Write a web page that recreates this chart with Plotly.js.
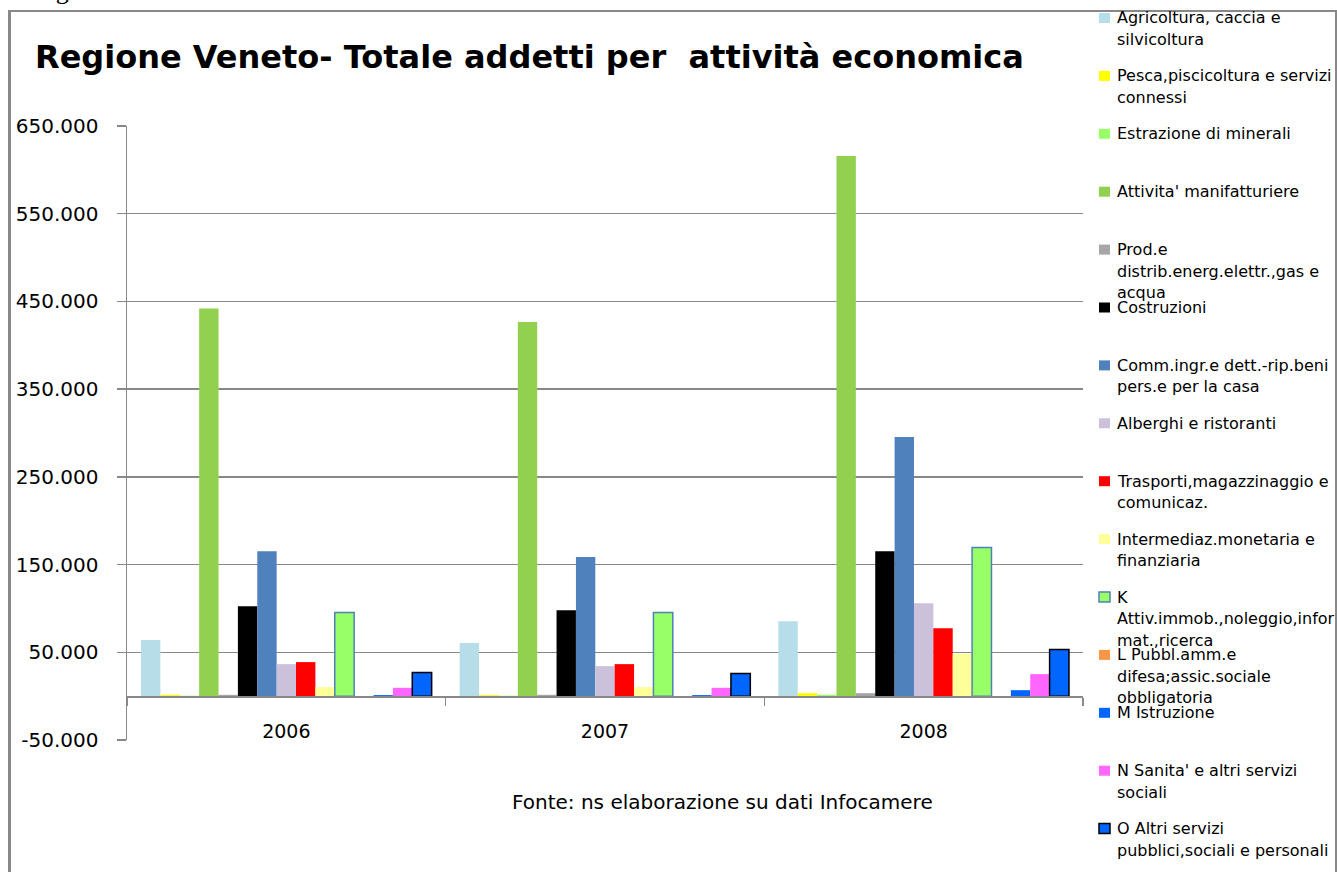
<!DOCTYPE html>
<html>
<head>
<meta charset="utf-8">
<script src="https://cdn.plot.ly/plotly-3.0.1.min.js"></script>
<style>
html,body{margin:0;padding:0;background:#fff;}
#chart{width:1337px;height:872px;}
</style>
</head>
<body>
<div id="chart"></div>
<script>
// ---- data ----
const years = ["2006", "2007", "2008"];

const seriesNames = [
  "Agricoltura, caccia e silvicoltura",
  "Pesca,piscicoltura e servizi connessi",
  "Estrazione di minerali",
  "Attivita' manifatturiere",
  "Prod.e distrib.energ.elettr.,gas e acqua",
  "Costruzioni",
  "Comm.ingr.e dett.-rip.beni pers.e per la casa",
  "Alberghi e ristoranti",
  "Trasporti,magazzinaggio e comunicaz.",
  "Intermediaz.monetaria e finanziaria",
  "K Attiv.immob.,noleggio,informat.,ricerca",
  "L Pubbl.amm.e difesa;assic.sociale obbligatoria",
  "M Istruzione",
  "N Sanita' e altri servizi sociali",
  "O Altri servizi pubblici,sociali e personali"
];

// legend labels as wrapped in the original (one string per line)
const legendLines = [
  ["Agricoltura, caccia e", "silvicoltura"],
  ["Pesca,piscicoltura e servizi", "connessi"],
  ["Estrazione di minerali"],
  ["Attivita' manifatturiere"],
  ["Prod.e", "distrib.energ.elettr.,gas e", "acqua"],
  ["Costruzioni"],
  ["Comm.ingr.e dett.-rip.beni", "pers.e per la casa"],
  ["Alberghi e ristoranti"],
  ["Trasporti,magazzinaggio e", "comunicaz."],
  ["Intermediaz.monetaria e", "finanziaria"],
  ["K", "Attiv.immob.,noleggio,infor", "mat.,ricerca"],
  ["L Pubbl.amm.e", "difesa;assic.sociale", "obbligatoria"],
  ["M Istruzione"],
  ["N Sanita' e altri servizi", "sociali"],
  ["O Altri servizi", "pubblici,sociali e personali"]
];

const agricoltura   = [64000, 60500, 85500];
const pesca         = [1500, 1200, 3400];
const estrazione    = [500, 500, 1500];
const manifatturiere= [442000, 426500, 615700];
const energia       = [1500, 1500, 3400];
const costruzioni   = [102600, 98000, 165300];
const commercio     = [165300, 158500, 295300];
const alberghi      = [36500, 34200, 106000];
const trasporti     = [38800, 36500, 77500];
const intermediaz   = [10300, 10300, 48300];
const attivImmob    = [95400, 95400, 169500];
const pubblAmm      = [-1000, -1000, -1000];
const istruzione    = [1200, 1200, 6800];
const sanita        = [9500, 9500, 25100];
const altriServizi  = [27000, 25900, 53200];

const yTickVals   = [-50000, 50000, 150000, 250000, 350000, 450000, 550000, 650000];
const yTickLabels = ["-50.000", "50.000", "150.000", "250.000", "350.000", "450.000", "550.000", "650.000"];

const titleText  = "Regione Veneto- Totale addetti per\u00A0 attività economica";
const sourceText = "Fonte: ns elaborazione su dati Infocamere";
const figText    = "Fig.5";

// ---- styles ----
const seriesValues = [agricoltura, pesca, estrazione, manifatturiere, energia, costruzioni,
  commercio, alberghi, trasporti, intermediaz, attivImmob, pubblAmm, istruzione, sanita, altriServizi];
const colors = ["#B7DEE8", "#FFFF00", "#99FF66", "#92D050", "#A6A6A6", "#000000",
  "#4F81BD", "#CCC1DA", "#FF0000", "#FFFF99", "#99FF66", "#F79646", "#0066FF", "#FF66FF", "#0066FF"];
const outlines = {10: "#4F81BD", 14: "#000000"};

const W = 1337, H = 872;
const L = 127, R = 1083, T = 126, B = 740;
const px2x = px => (px - L) / (R - L);
const py2y = py => (B - py) / (B - T);

const traces = seriesValues.map((vals, i) => ({
  type: "bar",
  name: seriesNames[i],
  x: years,
  y: vals,
  marker: {
    color: colors[i],
    line: outlines[i] ? {color: outlines[i], width: 1.5} : {width: 0}
  },
  showlegend: false,
  hoverinfo: "x+y+name"
}));

const annotations = [];
const shapes = [];
const legendFont = {family: "DejaVu Sans", size: 16, color: "#000"};

legendLines.forEach((lines, i) => {
  const y0 = 18 + i * 57.9;
  lines.forEach((ln, j) => {
    annotations.push({
      xref: "paper", yref: "paper",
      x: px2x(1115), y: py2y(y0 + j * 21.5),
      xanchor: "left", yanchor: "middle",
      text: ln, showarrow: false, font: legendFont
    });
  });
  shapes.push({
    type: "rect", xref: "paper", yref: "paper",
    x0: px2x(1099), x1: px2x(1110), y0: py2y(y0 - 5), y1: py2y(y0 + 5),
    fillcolor: colors[i],
    line: outlines[i] ? {color: outlines[i], width: 1.5} : {width: 0}
  });
});

annotations.push({
  xref: "paper", yref: "paper",
  x: px2x(722), y: py2y(802), xanchor: "center", yanchor: "middle",
  text: sourceText, showarrow: false,
  font: {family: "DejaVu Sans", size: 20, color: "#000"}
});

annotations.push({
  xref: "paper", yref: "paper",
  x: px2x(32), y: py2y(7), xanchor: "left", yanchor: "bottom",
  text: figText, showarrow: false,
  font: {family: "Liberation Serif", size: 26, color: "#000"}
});

// frame
const frameColor = "#888888";
shapes.push({type: "line", xref: "paper", yref: "paper", x0: px2x(9.5), x1: px2x(9.5), y0: py2y(10), y1: py2y(880), line: {color: frameColor, width: 3}});
shapes.push({type: "line", xref: "paper", yref: "paper", x0: px2x(8), x1: px2x(1337), y0: py2y(11), y1: py2y(11), line: {color: frameColor, width: 2}});
shapes.push({type: "line", xref: "paper", yref: "paper", x0: px2x(1336), x1: px2x(1336), y0: py2y(10), y1: py2y(880), line: {color: frameColor, width: 2}});

const layout = {
  width: W, height: H,
  margin: {l: L, r: W - R, t: T, b: H - B, pad: 0},
  paper_bgcolor: "#fff", plot_bgcolor: "#fff",
  barmode: "group", bargap: 0.088, bargroupgap: 0,
  title: {
    text: "<b>" + titleText + "</b>",
    xref: "container", yref: "container",
    x: 35 / W, xanchor: "left",
    y: 1 - 57 / H, yanchor: "middle",
    font: {family: "DejaVu Sans", size: 32, color: "#000"}
  },
  xaxis: {
    type: "category",
    anchor: "free",
    position: 50000 / 700000,
    showline: true, linecolor: "#888888", linewidth: 1.5,
    ticks: "outside", tickson: "boundaries", ticklen: 8, tickcolor: "#888888", tickwidth: 1.5,
    ticklabelstandoff: 18,
    showgrid: false, zeroline: false,
    tickfont: {family: "DejaVu Sans", size: 19, color: "#000"}
  },
  yaxis: {
    range: [-50000, 650000],
    tickmode: "array", tickvals: yTickVals, ticktext: yTickLabels,
    showline: true, linecolor: "#888888", linewidth: 1.5,
    ticks: "outside", ticklen: 9, tickcolor: "#888888", tickwidth: 1.5,
    showgrid: true, gridcolor: "#888888", gridwidth: 1.5,
    zeroline: false,
    ticklabelstandoff: 14,
    tickfont: {family: "DejaVu Sans", size: 20, color: "#000"}
  },
  annotations: annotations,
  shapes: shapes
};

Plotly.newPlot("chart", traces, layout, {displayModeBar: false, staticPlot: true});
</script>
</body>
</html>
